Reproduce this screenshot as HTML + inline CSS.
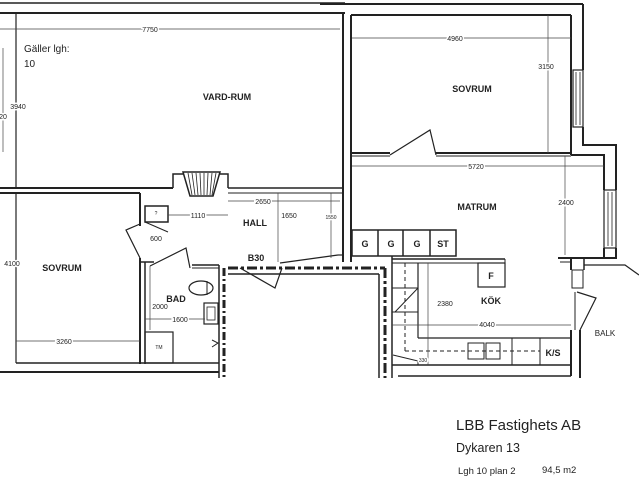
<!DOCTYPE html>
<html><head><meta charset="utf-8"><style>
html,body{margin:0;padding:0;background:#fff;width:639px;height:480px;overflow:hidden}
svg{display:block}
.t{font-family:"Liberation Sans",sans-serif;fill:#222}
.d text{paint-order:stroke;stroke:#fff;stroke-width:3px}
</style></head><body>
<svg width="639" height="480" viewBox="0 0 639 480" xmlns="http://www.w3.org/2000/svg">
<g stroke="#222" fill="none" stroke-width="1.5">
<line x1="0" y1="3" x2="345" y2="3" stroke-width="1.5"/>
<line x1="0" y1="13" x2="345" y2="13" stroke-width="2"/>
<line x1="16" y1="13" x2="16" y2="188" stroke-width="1.2"/>
<line x1="0" y1="188" x2="173" y2="188" stroke-width="2"/>
<line x1="0" y1="193" x2="140" y2="193" stroke-width="2"/>
<polyline points="173,188 173,174 183,174"/>
<polyline points="228,188 228,174 220,174"/>
<line x1="228" y1="188" x2="343" y2="188"/>
<line x1="228" y1="193" x2="343" y2="193" stroke-width="1"/>
<polygon points="183,172 220,172 213,196 190,196" stroke-width="1.5"/>
<g stroke-width="0.8">
<line x1="188" y1="173" x2="192" y2="195"/><line x1="192" y1="173" x2="195" y2="195"/><line x1="196" y1="173" x2="198" y2="195"/><line x1="200" y1="173" x2="201" y2="195"/><line x1="204" y1="173" x2="204" y2="195"/><line x1="208" y1="173" x2="207" y2="195"/><line x1="212" y1="173" x2="210" y2="195"/><line x1="216" y1="173" x2="212" y2="195"/>
</g>
<line x1="343" y1="13" x2="343" y2="262" stroke-width="2"/>
<line x1="351" y1="15" x2="351" y2="262" stroke-width="2"/>
<line x1="320" y1="4" x2="583" y2="4" stroke-width="2"/>
<line x1="351" y1="15" x2="571" y2="15" stroke-width="2"/>
<line x1="583" y1="4" x2="583" y2="70" stroke-width="2"/>
<line x1="571" y1="15" x2="571" y2="155" stroke-width="2"/>
<rect x="573" y="70" width="10" height="57" stroke-width="1.2"/>
<line x1="576" y1="72" x2="576" y2="125" stroke-width="0.8"/><line x1="580" y1="72" x2="580" y2="125" stroke-width="0.8"/>
<polyline points="583,127 583,145 616,145 616,190" stroke-width="2"/>
<polyline points="571,155 604,155 604,190" stroke-width="2"/>
<line x1="351" y1="153" x2="390" y2="153" stroke-width="2"/>
<line x1="351" y1="156" x2="390" y2="156" stroke-width="1"/>
<line x1="436" y1="153" x2="571" y2="153" stroke-width="2"/>
<line x1="436" y1="156" x2="571" y2="156" stroke-width="1"/>
<polyline points="390,155 430,130 436,155" stroke-width="1.2"/>
<rect x="604" y="190" width="12" height="58" stroke-width="1.2"/>
<line x1="608" y1="192" x2="608" y2="246" stroke-width="0.8"/><line x1="612" y1="192" x2="612" y2="246" stroke-width="0.8"/>
<polyline points="616,248 616,258 584,258" stroke-width="2"/>
<polyline points="604,248 604,258" stroke-width="2"/>
<polyline points="571,258 571,270" stroke-width="2"/><line x1="558" y1="258" x2="584" y2="258" stroke-width="2"/>
<line x1="560" y1="262" x2="571" y2="262" stroke-width="1"/>
<polyline points="584,258 584,270" stroke-width="1.5"/>
<polyline points="584,265 625,265 639,275" stroke-width="1.2"/>
<rect x="572" y="270" width="11" height="18" stroke-width="1"/>
<polyline points="577,292 596,298 580,330" stroke-width="1.2"/>
<line x1="575" y1="292" x2="575" y2="330" stroke-width="1"/>
<line x1="571" y1="330" x2="571" y2="376" stroke-width="2"/>
<line x1="580" y1="330" x2="580" y2="378" stroke-width="2"/>
<rect x="352" y="230" width="104" height="26" stroke-width="1.5"/>
<line x1="378" y1="230" x2="378" y2="256"/><line x1="403" y1="230" x2="403" y2="256"/><line x1="430" y1="230" x2="430" y2="256"/>
<line x1="392" y1="259" x2="505" y2="259"/>
<line x1="392" y1="263" x2="505" y2="263" stroke-width="1"/>
<line x1="505" y1="259" x2="505" y2="287" stroke-width="1"/>
<rect x="478" y="263" width="27" height="24" stroke-width="1.2"/>
<line x1="392" y1="256" x2="392" y2="366"/>
<line x1="418" y1="263" x2="418" y2="338" stroke-width="1.2"/>
<line x1="418" y1="338" x2="571" y2="338" stroke-width="1.2"/>
<line x1="392" y1="365" x2="571" y2="365" stroke-width="1.5"/>
<line x1="398" y1="376" x2="571" y2="376" stroke-width="1.5"/>
<rect x="468" y="343" width="16" height="16" stroke-width="1"/><rect x="486" y="343" width="14" height="16" stroke-width="1"/>
<line x1="512" y1="338" x2="512" y2="365" stroke-width="1"/><line x1="540" y1="338" x2="540" y2="365" stroke-width="1"/>
<line x1="405" y1="351" x2="540" y2="351" stroke-width="1" stroke-dasharray="4,3"/>
<line x1="405" y1="263" x2="405" y2="351" stroke-width="1" stroke-dasharray="4,3"/>
<line x1="418" y1="288" x2="392" y2="288" stroke-width="1"/>
<line x1="418" y1="312" x2="392" y2="312" stroke-width="1"/>
<line x1="418" y1="288" x2="395" y2="312" stroke-width="1"/>
<polyline points="393,355 418,361 418,365" stroke-width="1"/>
<line x1="228" y1="268" x2="385" y2="268" stroke-width="3" stroke-dasharray="10,3,3,3"/>
<line x1="228" y1="274" x2="379" y2="274" stroke-width="1.5"/>
<line x1="385" y1="268" x2="385" y2="378" stroke-width="3" stroke-dasharray="10,3,3,3"/>
<line x1="379" y1="274" x2="379" y2="378" stroke-width="1.5"/>
<line x1="392" y1="366" x2="392" y2="378" stroke-width="1.5"/>
<line x1="224" y1="268" x2="224" y2="378" stroke-width="3" stroke-dasharray="8,3,2,3"/>
<line x1="219" y1="265" x2="219" y2="378" stroke-width="1.5"/>
<line x1="140" y1="193" x2="140" y2="226" stroke-width="2"/>
<rect x="145" y="206" width="23" height="16" stroke-width="1.5"/>
<polyline points="140,224 126,230 140,258" stroke-width="1.2"/>
<line x1="145" y1="222" x2="168" y2="232" stroke-width="1"/>
<polyline points="150,266 186,248 190,268" stroke-width="1.2"/>
<line x1="280" y1="263" x2="338" y2="255" stroke-width="1.2"/>
<line x1="338" y1="255" x2="343" y2="255" stroke-width="1.2"/>
<polyline points="240,268 275,288 282,268" stroke-width="1.2"/>
<line x1="140" y1="258" x2="140" y2="364" stroke-width="2"/>
<line x1="145" y1="262" x2="145" y2="364" stroke-width="1.5"/>
<line x1="140" y1="262" x2="154" y2="262" stroke-width="1.5"/>
<line x1="192" y1="265" x2="219" y2="265" stroke-width="1.5"/>
<line x1="192" y1="268" x2="219" y2="268" stroke-width="1"/>
<rect x="145" y="332" width="28" height="31" stroke-width="1.2"/>
<ellipse cx="201" cy="288" rx="12" ry="7" stroke-width="1.2"/>
<line x1="207" y1="281" x2="207" y2="295" stroke-width="1"/>
<rect x="204" y="303" width="14" height="21" stroke-width="1.2"/>
<rect x="207" y="307" width="8" height="13" stroke-width="0.8"/>
<polyline points="212,340 218,343 212,347" stroke-width="1"/>
<line x1="16" y1="193" x2="16" y2="363" stroke-width="1.2"/>
<line x1="16" y1="363" x2="219" y2="363" stroke-width="1.5"/>
<line x1="0" y1="372" x2="219" y2="372" stroke-width="2"/>
</g>
<g stroke="#444" stroke-width="0.7" fill="none">
<line x1="0" y1="29" x2="340" y2="29"/>
<line x1="3" y1="48" x2="3" y2="152"/>
<line x1="352" y1="38" x2="571" y2="38"/>
<line x1="548" y1="15" x2="548" y2="153"/>
<line x1="352" y1="166" x2="604" y2="166"/>
<line x1="565" y1="156" x2="565" y2="255"/>
<line x1="16" y1="341" x2="140" y2="341"/>
<line x1="168" y1="215" x2="228" y2="215"/>
<line x1="228" y1="201" x2="340" y2="201"/>
<line x1="278" y1="193" x2="278" y2="262"/>
<line x1="331" y1="193" x2="331" y2="258"/>
<line x1="150" y1="266" x2="150" y2="330"/>
<line x1="145" y1="319" x2="205" y2="319"/>
<line x1="392" y1="325" x2="571" y2="325"/>
<line x1="428" y1="263" x2="428" y2="365"/>
</g>
<g class="t d" font-size="7" text-anchor="middle">
<text x="150" y="32">7750</text>
<text x="455" y="41">4960</text>
<text x="546" y="69">3150</text>
<text x="476" y="169">5720</text>
<text x="566" y="205">2400</text>
<text x="18" y="109">3940</text>
<text x="3" y="119">20</text>
<text x="12" y="266">4100</text>
<text x="64" y="344">3260</text>
<text x="198" y="218">1110</text>
<text x="156" y="241">600</text>
<text x="263" y="204">2650</text>
<text x="289" y="218">1650</text>
<text x="331" y="219" font-size="5">1550</text>
<text x="160" y="309">2000</text>
<text x="180" y="322">1600</text>
<text x="445" y="306">2380</text>
<text x="487" y="327">4040</text>
<text x="423" y="362" font-size="5">330</text>
<text x="159" y="349" font-size="5">TM</text>
<text x="156" y="215" font-size="5">?</text>
</g>
<g class="t" font-size="9" font-weight="bold" text-anchor="middle">
<text x="227" y="100">VARD-RUM</text>
<text x="472" y="92">SOVRUM</text>
<text x="477" y="210">MATRUM</text>
<text x="62" y="271">SOVRUM</text>
<text x="255" y="226">HALL</text>
<text x="176" y="302">BAD</text>
<text x="256" y="261">B30</text>
<text x="491" y="304">KÖK</text>
<text x="491" y="279">F</text>
<text x="365" y="247">G</text>
<text x="391" y="247">G</text>
<text x="417" y="247">G</text>
<text x="443" y="247">ST</text>
<text x="553" y="356">K/S</text>
<text x="605" y="336" font-weight="normal" font-size="8">BALK</text>
</g>
<g class="t">
<text x="24" y="52" font-size="10">Gäller lgh:</text>
<text x="24" y="67" font-size="10">10</text>
<text x="456" y="430" font-size="15">LBB Fastighets AB</text>
<text x="456" y="452" font-size="12.5">Dykaren 13</text>
<text x="458" y="474" font-size="9.5">Lgh 10 plan 2</text>
<text x="542" y="473" font-size="9.5">94,5 m2</text>
</g>
</svg>
</body></html>
